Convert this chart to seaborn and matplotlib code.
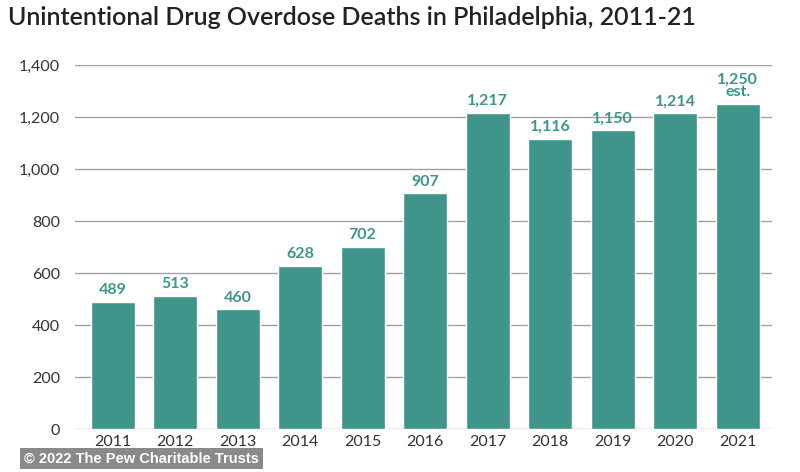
import pandas as pd
import seaborn as sns
import matplotlib.pyplot as plt

# Unintentional overdose deaths per year
years = ['2011', '2012', '2013', '2014', '2015', '2016',
         '2017', '2018', '2019', '2020', '2021']
deaths = [489, 513, 460, 628, 702, 907, 1217, 1116, 1150, 1214, 1250]
labels = ['489', '513', '460', '628', '702', '907',
          '1,217', '1,116', '1,150', '1,214', '1,250\nest.']
yticks = [0, 200, 400, 600, 800, 1000, 1200, 1400]

df = pd.DataFrame({'Year': years, 'Deaths': deaths})

sns.set_style('white')
plt.rcParams['font.family'] = ['Lato', 'DejaVu Sans']

teal = '#3f958a'

fig = plt.figure(figsize=(8, 4.72), dpi=100)
ax = fig.add_axes([0.094, 0.091, 0.871, 0.771])
sns.barplot(x='Year', y='Deaths', data=df, color=teal, width=0.7,
            saturation=1, ax=ax, zorder=3)

for i, (v, lab) in enumerate(zip(deaths, labels)):
    ax.text(i, v + 18, lab, ha='center', va='bottom', color=teal,
            fontsize=11.5, fontweight='bold', linespacing=0.85)

ax.set_ylim(0, 1400)
ax.set_xlim(-0.6, 10.55)
ax.set_yticks(yticks)
ax.set_yticklabels([f'{t:,}' for t in yticks])
ax.yaxis.grid(True, color='#a0a0a0', linewidth=1.0, zorder=0)
ax.set_axisbelow(True)
for s in ax.spines.values():
    s.set_visible(False)
ax.tick_params(axis='y', length=0, pad=11, labelsize=11.5, labelcolor='#333333')
ax.tick_params(axis='x', length=0, pad=4, labelsize=11.5, labelcolor='#333333')
ax.set_xlabel('')
ax.set_ylabel('')

fig.text(0.01, 0.962, 'Unintentional Drug Overdose Deaths in Philadelphia, 2011-21',
         fontsize=18, fontweight='semibold', color='#222222', va='center')

fig.text(0.03, 0.028, '\u00a9 2022 The Pew Charitable Trusts', fontsize=10.5,
         color='white', fontweight='bold', family=['Liberation Sans', 'DejaVu Sans'],
         va='center',
         bbox=dict(boxstyle='square,pad=0.25', facecolor='#8a8a8a', edgecolor='none'))

fig.savefig('out.png', dpi=100)
